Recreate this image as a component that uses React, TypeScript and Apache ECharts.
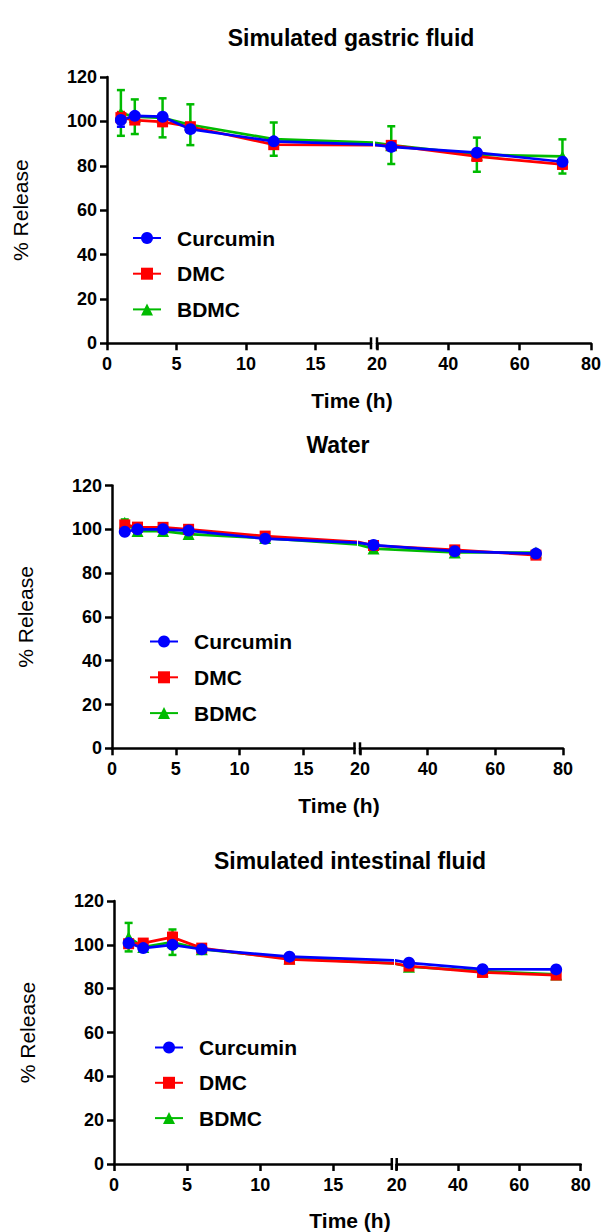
import React, { useEffect, useRef } from "react";
import * as echarts from "echarts";

// ---------- data ----------
const TIME_H = [1, 2, 4, 6, 12, 24, 48, 72];
const SERIES_NAMES = ["Curcumin", "DMC", "BDMC"];
const X_TICKS_LEFT = [0, 5, 10, 15];
const X_TICKS_RIGHT = [20, 40, 60, 80];
const PANEL_TITLES = ["Simulated gastric fluid", "Water", "Simulated intestinal fluid"];

// Simulated gastric fluid
const GASTRIC_CURCUMIN = [100.6, 102.5, 102.1, 96.5, 91.0, 88.5, 85.9, 81.8];
const GASTRIC_CURCUMIN_SD = [3.0, 1.2, 1.2, 1.2, 1.2, 1.2, 1.2, 1.2];
const GASTRIC_DMC = [101.7, 100.6, 99.8, 97.6, 89.5, 89.2, 84.2, 80.6];
const GASTRIC_DMC_SD = [2.5, 1.5, 1.8, 1.5, 1.8, 1.5, 1.8, 1.8];
const GASTRIC_BDMC = [103.8, 102.1, 101.6, 98.5, 92.0, 89.3, 85.0, 84.2];
const GASTRIC_BDMC_SD = [10.3, 7.8, 8.8, 9.2, 7.5, 8.5, 7.7, 7.7];

// Water
const WATER_CURCUMIN = [98.9, 100.0, 100.0, 99.4, 95.7, 92.8, 90.0, 88.9];
const WATER_CURCUMIN_SD = [1.0, 1.0, 1.0, 1.0, 1.0, 1.0, 1.0, 1.0];
const WATER_DMC = [102.0, 101.0, 100.9, 100.0, 96.9, 92.6, 90.6, 88.2];
const WATER_DMC_SD = [1.2, 1.0, 1.0, 1.0, 1.0, 1.0, 1.0, 1.0];
const WATER_BDMC = [103.0, 99.2, 99.2, 97.8, 96.0, 91.2, 89.4, 89.4];
const WATER_BDMC_SD = [1.5, 1.0, 1.0, 1.2, 1.0, 1.0, 1.0, 1.0];

// Simulated intestinal fluid
const INTESTINAL_CURCUMIN = [100.8, 98.5, 100.0, 98.0, 94.6, 91.8, 88.9, 88.8];
const INTESTINAL_CURCUMIN_SD = [1.0, 1.0, 1.0, 1.0, 1.0, 1.0, 1.0, 1.0];
const INTESTINAL_DMC = [100.5, 100.8, 103.5, 98.5, 93.4, 90.3, 87.4, 86.2];
const INTESTINAL_DMC_SD = [1.0, 1.0, 2.0, 1.0, 1.0, 1.0, 1.0, 1.0];
const INTESTINAL_BDMC = [103.5, 99.0, 101.2, 98.0, 93.8, 90.0, 88.0, 86.5];
const INTESTINAL_BDMC_SD = [6.5, 1.0, 5.8, 1.0, 1.0, 1.0, 1.0, 1.0];

const PANEL_DATA = [
  {
    means: [GASTRIC_CURCUMIN, GASTRIC_DMC, GASTRIC_BDMC],
    sds: [GASTRIC_CURCUMIN_SD, GASTRIC_DMC_SD, GASTRIC_BDMC_SD],
  },
  {
    means: [WATER_CURCUMIN, WATER_DMC, WATER_BDMC],
    sds: [WATER_CURCUMIN_SD, WATER_DMC_SD, WATER_BDMC_SD],
  },
  {
    means: [INTESTINAL_CURCUMIN, INTESTINAL_DMC, INTESTINAL_BDMC],
    sds: [INTESTINAL_CURCUMIN_SD, INTESTINAL_DMC_SD, INTESTINAL_BDMC_SD],
  },
];

// ---------- styles / layout ----------
const COLORS = ["#0000ff", "#ff0000", "#00bb00"];
const SYMBOLS = ["circle", "rect", "triangle"];
const SYMBOL_SIZES = [12, 11, 12];
const FONT = "'Liberation Sans', Arial, Helvetica, sans-serif";

const LAYOUT = [
  { axisX: 107, yTop: 77, y0: 343.3, aRight: 371, bLeft: 377, bRight: 593, titleX: 351, titleY: 38, xNameX: 352, xNameY: 400, legLeft: 132, legTop: 227.5, legGap: 14.7 },
  { axisX: 112, yTop: 485.5, y0: 748.3, aRight: 354.5, bLeft: 360, bRight: 563, titleX: 338, titleY: 445, xNameX: 339, xNameY: 805, legLeft: 149, legTop: 631, legGap: 14.8 },
  { axisX: 114, yTop: 901, y0: 1164, aRight: 391.8, bLeft: 396.7, bRight: 580.7, titleX: 350, titleY: 861, xNameX: 350, xNameY: 1220, legLeft: 154, legTop: 1037, legGap: 14.3 },
];

const AXIS_W = 2.5;

function buildOption() {
  const grid: any[] = [];
  const xAxis: any[] = [];
  const yAxis: any[] = [];
  const series: any[] = [];
  const legend: any[] = [];
  const graphic: any[] = [];

  const axisLineStyle = { color: "#000", width: AXIS_W };
  const labelStyle = { color: "#000", fontSize: 18, fontWeight: "bold", fontFamily: FONT };

  LAYOUT.forEach((L, p) => {
    const h = L.y0 - L.yTop;
    const segs = [
      { left: L.axisX, width: L.aRight - L.axisX, min: 0, max: 19, ticks: X_TICKS_LEFT },
      { left: L.bLeft, width: L.bRight - L.bLeft, min: 20, max: 80, ticks: X_TICKS_RIGHT },
    ];
    segs.forEach((s, si) => {
      const k = p * 2 + si;
      grid.push({ left: s.left, top: L.yTop, width: s.width, height: h, containLabel: false });
      xAxis.push({
        type: "value",
        gridIndex: k,
        min: s.min,
        max: s.max,
        interval: si === 0 ? 5 : 20,
        splitLine: { show: false },
        axisLine: { show: true, lineStyle: axisLineStyle },
        axisTick: { show: true, length: 7, lineStyle: { width: AXIS_W, color: "#000" }, customValues: s.ticks },
        axisLabel: { ...labelStyle, margin: 12, customValues: s.ticks },
      });
      yAxis.push({
        type: "value",
        gridIndex: k,
        min: 0,
        max: 120,
        interval: 20,
        show: si === 0,
        splitLine: { show: false },
        axisLine: { show: true, lineStyle: axisLineStyle },
        axisTick: { show: true, length: 7, lineStyle: { width: AXIS_W, color: "#000" } },
        axisLabel: { ...labelStyle, margin: 10 },
        name: si === 0 ? "% Release" : "",
        nameLocation: "middle",
        nameGap: 76,
        nameTextStyle: { color: "#000", fontSize: 21, fontWeight: "normal", fontFamily: FONT },
      });

      const order = [2, 1, 0];
      // error bars
      order.forEach((c) => {
        const means = PANEL_DATA[p].means[c];
        const sds = PANEL_DATA[p].sds[c];
        const color = COLORS[c];
        series.push({
          type: "custom",
          name: SERIES_NAMES[c] + " SD",
          xAxisIndex: k,
          yAxisIndex: k,
          encode: { x: 0, y: 1 },
          data: TIME_H.map((t, i) => [t, means[i], sds[i]]),
          silent: true,
          renderItem: (params: any, api: any) => {
            const x = api.value(0);
            const v = api.value(1);
            const e = api.value(2);
            const top = api.coord([x, v + e]);
            const bot = api.coord([x, v - e]);
            const cs = params.coordSys;
            if (top[0] < cs.x - 0.5 || top[0] > cs.x + cs.width + 0.5) return null;
            const hw = 4;
            const st = { stroke: color, lineWidth: 2.5 };
            return {
              type: "group",
              children: [
                { type: "line", shape: { x1: top[0], y1: top[1], x2: bot[0], y2: bot[1] }, style: st },
                { type: "line", shape: { x1: top[0] - hw, y1: top[1], x2: top[0] + hw, y2: top[1] }, style: st },
                { type: "line", shape: { x1: bot[0] - hw, y1: bot[1], x2: bot[0] + hw, y2: bot[1] }, style: st },
              ],
            };
          },
        });
      });
      // lines + markers
      order.forEach((c) => {
        const means = PANEL_DATA[p].means[c];
        series.push({
          type: "line",
          name: SERIES_NAMES[c],
          xAxisIndex: k,
          yAxisIndex: k,
          data: TIME_H.map((t, i) => [t, means[i]]),
          symbol: SYMBOLS[c],
          symbolSize: SYMBOL_SIZES[c],
          showAllSymbol: true,
          clip: true,
          color: COLORS[c],
          itemStyle: { color: COLORS[c] },
          lineStyle: { color: COLORS[c], width: 2.7 },
          emphasis: { disabled: true },
        });
      });
    });

    legend.push({
      data: SERIES_NAMES,
      orient: "vertical",
      left: L.legLeft,
      top: L.legTop,
      padding: 0,
      itemWidth: 28,
      itemHeight: 15,
      itemGap: L.legGap,
      selectedMode: false,
      textStyle: { color: "#000", fontSize: 21, fontWeight: "bold", fontFamily: FONT, padding: [0, 0, 0, 11] },
    });

    // titles & x-axis name
    graphic.push({
      type: "text",
      x: L.titleX,
      y: L.titleY,
      style: { text: PANEL_TITLES[p], fill: "#000", font: `bold 23px ${FONT}`, textAlign: "center", textVerticalAlign: "middle" },
    });
    graphic.push({
      type: "text",
      x: L.xNameX,
      y: L.xNameY,
      style: { text: "Time (h)", fill: "#000", font: `bold 21px ${FONT}`, textAlign: "center", textVerticalAlign: "middle" },
    });
    // axis break marks
    [L.aRight, L.bLeft].forEach((bx) => {
      graphic.push({
        type: "line",
        shape: { x1: bx, y1: L.y0 - 6, x2: bx, y2: L.y0 + 6 },
        style: { stroke: "#000", lineWidth: AXIS_W },
      });
    });
  });

  return {
    animation: false,
    backgroundColor: "#fff",
    grid,
    xAxis,
    yAxis,
    legend,
    series,
    graphic,
  };
}

export default function App() {
  const ref = useRef<HTMLDivElement>(null);
  useEffect(() => {
    if (!ref.current) return;
    const chart = echarts.init(ref.current, null, { renderer: "svg" });
    chart.setOption(buildOption() as any);
    return () => chart.dispose();
  }, []);
  return (
    <div
      ref={ref}
      style={{ position: "fixed", left: 0, top: 0, width: 604, height: 1232, background: "#fff" }}
    />
  );
}
